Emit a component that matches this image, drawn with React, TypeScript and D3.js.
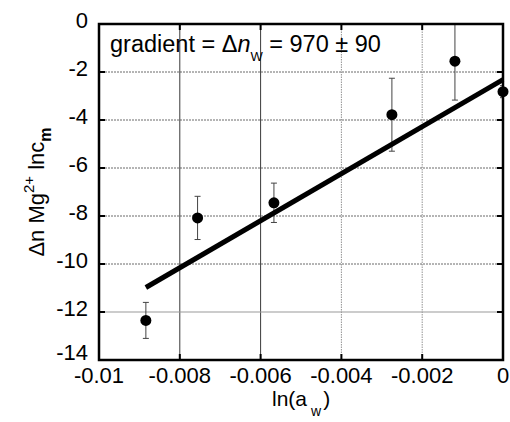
import React from "react";
import * as d3 from "d3";

const xVals = [-0.00884, -0.00756, -0.00567, -0.00275, -0.00119, 0];
const yVals = [-12.35, -8.08, -7.45, -3.78, -1.55, -2.82];
const yErr = [0.75, 0.9, 0.82, 1.52, 1.62, 0.25];
const fitX = [-0.00884, 0];
const fitY = [-10.98, -2.32];
const xTicks = [-0.01, -0.008, -0.006, -0.004, -0.002, 0];
const yTicks = [0, -2, -4, -6, -8, -10, -12, -14];

const W = 510, H = 422;
const L = 99, R = 503, T = 24, B = 360;

export default function App() {
  const x = d3.scaleLinear().domain([-0.01, 0]).range([L, R]);
  const y = d3.scaleLinear().domain([-14, 0]).range([B, T]);
  const line = d3.line<number>().x((_, i) => x(fitX[i])).y((d) => y(d));
  const font = "'Liberation Sans', Arial, Helvetica, sans-serif";
  const xfmt = (v: number) => (v === 0 ? "0" : String(v));
  const solidX = (t: number) => t === -0.008 || t === -0.006;
  return (
    <svg width={W} height={H} style={{ position: "absolute", left: 0, top: 0 }} fontFamily={font}>
      <rect x={0} y={0} width={W} height={H} fill="#fff" />
      <defs>
        <clipPath id="plot">
          <rect x={L} y={T} width={R - L} height={B - T} />
        </clipPath>
      </defs>
      {/* grid */}
      {xTicks.slice(1, -1).map((t) => (
        <line key={"gx" + t} x1={x(t)} x2={x(t)} y1={T} y2={B}
          stroke={solidX(t) ? "#222" : "#777"} strokeWidth={solidX(t) ? 0.9 : 0.8}
          strokeDasharray={solidX(t) ? undefined : "1.5,1"} />
      ))}
      {yTicks.slice(1, -1).map((t) => (
        <line key={"gy" + t} x1={L} x2={R} y1={y(t)} y2={y(t)}
          stroke={t === -12 ? "#999" : "#444"} strokeWidth={t === -12 ? 1.2 : 0.8}
          strokeDasharray={t === -12 ? undefined : "2,1"} />
      ))}
      {/* ticks inward */}
      {xTicks.slice(1, -1).map((t) => (
        <g key={"tx" + t}>
          <line x1={x(t)} x2={x(t)} y1={B} y2={B - 6} stroke="#000" strokeWidth={2} />
          <line x1={x(t)} x2={x(t)} y1={T} y2={T + 6} stroke="#000" strokeWidth={2} />
        </g>
      ))}
      {yTicks.slice(1, -1).map((t) => (
        <g key={"ty" + t}>
          <line x1={L} x2={L + 6} y1={y(t)} y2={y(t)} stroke="#000" strokeWidth={2} />
          <line x1={R} x2={R - 6} y1={y(t)} y2={y(t)} stroke="#000" strokeWidth={2} />
        </g>
      ))}
      {/* error bars */}
      <g clipPath="url(#plot)">
        {xVals.map((xv, i) => (
          <g key={"e" + i} stroke="#444" strokeWidth={1}>
            <line x1={x(xv)} x2={x(xv)} y1={y(yVals[i] + yErr[i])} y2={y(yVals[i] - yErr[i])} />
            <line x1={x(xv) - 3} x2={x(xv) + 3} y1={y(yVals[i] + yErr[i])} y2={y(yVals[i] + yErr[i])} />
            <line x1={x(xv) - 3} x2={x(xv) + 3} y1={y(yVals[i] - yErr[i])} y2={y(yVals[i] - yErr[i])} />
          </g>
        ))}
      </g>
      {/* fit line */}
      <path d={line(fitY) || ""} stroke="#000" strokeWidth={5} fill="none" />
      {/* points */}
      {xVals.map((xv, i) => (
        <circle key={"p" + i} cx={x(xv)} cy={y(yVals[i])} r={5.5} fill="#000" />
      ))}
      {/* frame */}
      <rect x={L} y={T} width={R - L} height={B - T} fill="none" stroke="#000" strokeWidth={2.5} />
      {/* tick labels */}
      {xTicks.map((t) => (
        <text key={"lx" + t} x={x(t)} y={B + 23} textAnchor="middle" fontSize={22}>
          {xfmt(t)}
        </text>
      ))}
      {yTicks.map((t) => (
        <text key={"ly" + t} x={L - 11} y={y(t) + (t === -14 ? 0 : 4)} textAnchor="end" fontSize={22}>
          {String(t)}
        </text>
      ))}
      {/* annotation */}
      <text x={110} y={52} fontSize={23.5}>
        gradient = Δ<tspan fontStyle="italic">n</tspan>
        <tspan dy={9} fontSize={13}>W</tspan>
        <tspan dy={-9}> = 970 ± 90</tspan>
      </text>
      {/* x label */}
      <text x={272} y={406} textAnchor="start" fontSize={21}>
        ln(a<tspan dx={4} dy={10} fontSize={14}>w</tspan>
        <tspan dx={2} dy={-10}>)</tspan>
      </text>
      {/* y label */}
      <text transform={`translate(44, ${(T + B) / 2}) rotate(-90)`} textAnchor="middle" fontSize={22}>
        Δn Mg<tspan dy={-10} fontSize={15}>2+</tspan>
        <tspan dy={10}> lnc</tspan>
        <tspan dy={7} fontSize={16} fontWeight="bold">m</tspan>
      </text>
    </svg>
  );
}
